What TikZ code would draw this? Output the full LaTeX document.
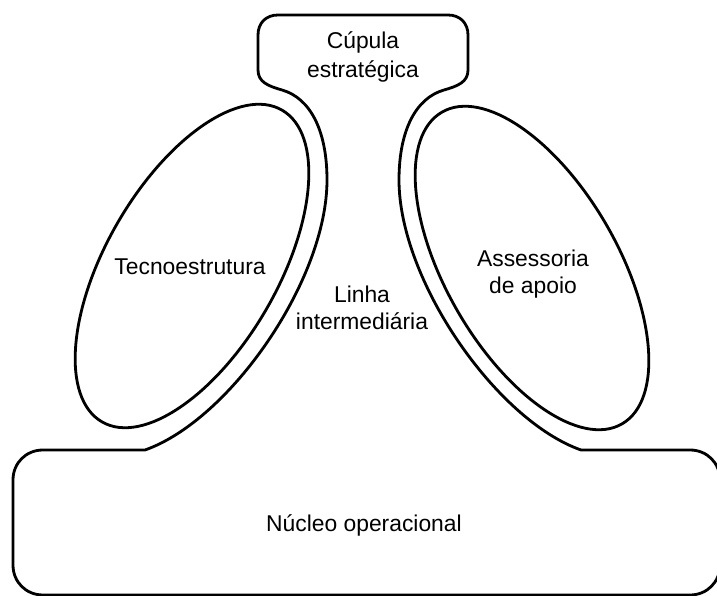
\documentclass[tikz,border=0pt]{standalone}
\usepackage{fontspec}
\setmainfont{Liberation Sans}
\usepackage{tikz}
\usetikzlibrary{positioning}

\tikzset{
  outline/.style={line width=1.6pt, line join=round},
  unit/.style={align=center, inner sep=1pt},
}

\begin{document}
\begin{tikzpicture}[x=0.2mm, y=-0.2mm, font=\fontsize{13}{15}\selectfont]
\useasboundingbox (0,0) rectangle (717,596);

% outline: apex on top, middle line down to the operating core
\draw[outline] (278,15) -- (448,15)
  .. controls (460,15) and (468,23) .. (468,35) -- (468,70)
  .. controls (468,82) and (458,86) .. (444,90)
  .. controls (416,98) and (399,130) .. (399,180)
  .. controls (399,280) and (496,420) .. (581,450) -- (690,450)
  .. controls (707,450) and (720,463) .. (720,480) -- (720,565)
  .. controls (720,582) and (707,595) .. (690,595) -- (43,595)
  .. controls (26,595) and (13,582) .. (13,565) -- (13,480)
  .. controls (13,463) and (26,450) .. (43,450) -- (145,450)
  .. controls (230,420) and (327,280) .. (327,180)
  .. controls (327,130) and (310,98) .. (282,90)
  .. controls (268,86) and (258,82) .. (258,70) -- (258,35)
  .. controls (258,23) and (266,15) .. (278,15) -- cycle;

% staff units left and right
\draw[outline, rotate around={60:(192,266)}] (192,266) ellipse [x radius=180, y radius=86];
\draw[outline, rotate around={-60:(532,268)}] (532,268) ellipse [x radius=180, y radius=86];

% labels
\node[unit] (cupula) at (363,57) {Cúpula\\[2pt]estratégica};
\node[unit] (tecno) at (190,267) {Tecnoestrutura};
\node[unit] (apoio) at (533,274) {Assessoria\\de apoio};
\node[unit] (linha) at (362,308) {Linha\\intermediária};
\node[unit] (nucleo) at (364,525) {Núcleo operacional};
\end{tikzpicture}
\end{document}
